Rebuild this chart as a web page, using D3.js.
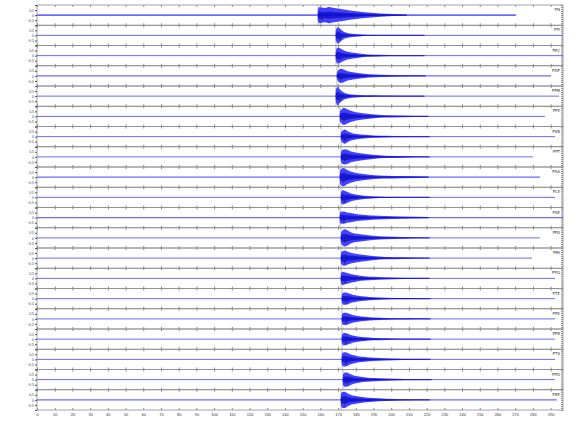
<!DOCTYPE html>
<html><head><meta charset="utf-8">
<script src="https://cdn.jsdelivr.net/npm/d3@7"></script>
<style>body{margin:0;background:#fff}svg{display:block;font-family:"DejaVu Sans",sans-serif}</style>
</head><body>
<svg id="c" width="580" height="440"></svg>
<script>
// ---- data ----
const stations = ["PN","PPI","PPC","PDP","PPM","PPE","PSB","PPT","PSA","PLE","PSE","PPA","PMI","PPG","PTE","PPK","PPB","PTS","PPD","PBE"];
const phaseLabel = "P";
// arrival time (s) of each trace
const arrivals = [158.7,168.8,168.8,169.4,168.8,171.1,171.7,171.7,171.1,171.7,171.1,171.7,171.7,171.7,172.2,172.2,172.2,172.2,172.8,171.7];
// end of each record (s)
const traceEnds = [270.5,297,297,290.2,294.8,286.8,292.5,280,284,292.5,297,284,279.5,292.5,292.5,292.5,292.5,292.5,292.5,293.5];
// baseline noise width (px) per trace
const noiseWidth = [1.6,1,1,1.4,1,1,1,1,1.3,1,1.3,1,1,1,1,1,1,1,1,1.2];
// envelope sample offsets after arrival (s)
const envOffsets = [0,1,2,4,6,9,13,18,25,35,50];
// envelope amplitude (fraction of half-panel height) per trace
const env1  = [0.6,0.8,0.75,0.7,0.8,0.7,0.6,0.45,0.3,0.15,0.06];
const env2  = [0.5,0.8,0.7,0.4,0.25,0.15,0.1,0.07,0.05,0.04,0.03];
const env3  = [0.5,0.8,0.75,0.55,0.4,0.3,0.2,0.12,0.08,0.05,0.04];
const env4  = [0.3,0.6,0.7,0.6,0.45,0.35,0.25,0.15,0.1,0.06,0.04];
const env5  = [0.6,0.9,0.7,0.4,0.25,0.15,0.1,0.08,0.06,0.05,0.04];
const env6  = [0.5,0.7,0.85,0.7,0.55,0.4,0.3,0.2,0.12,0.08,0.05];
const env7  = [0.4,0.6,0.7,0.5,0.35,0.25,0.18,0.12,0.08,0.05,0.04];
const env8  = [0.5,0.7,0.75,0.65,0.5,0.4,0.3,0.2,0.12,0.08,0.05];
const env9  = [0.6,0.85,0.9,0.7,0.55,0.4,0.3,0.2,0.14,0.1,0.06];
const env10 = [0.5,0.7,0.65,0.5,0.35,0.25,0.15,0.1,0.07,0.05,0.04];
const env11 = [0.5,0.6,0.6,0.5,0.45,0.35,0.28,0.2,0.15,0.1,0.06];
const env12 = [0.5,0.75,0.85,0.7,0.5,0.4,0.3,0.2,0.13,0.08,0.05];
const env13 = [0.5,0.7,0.75,0.6,0.5,0.4,0.3,0.2,0.12,0.08,0.05];
const env14 = [0.5,0.65,0.6,0.5,0.4,0.3,0.22,0.15,0.1,0.06,0.04];
const env15 = [0.4,0.6,0.6,0.5,0.38,0.28,0.2,0.13,0.09,0.06,0.04];
const env16 = [0.4,0.6,0.6,0.5,0.38,0.28,0.2,0.13,0.09,0.06,0.04];
const env17 = [0.4,0.6,0.6,0.48,0.35,0.25,0.18,0.12,0.08,0.05,0.04];
const env18 = [0.5,0.7,0.7,0.55,0.42,0.32,0.24,0.16,0.1,0.06,0.04];
const env19 = [0.5,0.7,0.7,0.55,0.4,0.3,0.22,0.15,0.1,0.06,0.04];
const env20 = [0.6,0.8,0.8,0.6,0.45,0.35,0.26,0.18,0.12,0.07,0.05];
const envelopes = [env1,env2,env3,env4,env5,env6,env7,env8,env9,env10,env11,env12,env13,env14,env15,env16,env17,env18,env19,env20];
const noiseLevel = 0.05;
const timeTicks = d3.range(0, 300, 10);
const ampTicks = [-1,-0.5,0,0.5,1];
const ampLabels = [-0.5,0,0.5];

// ---- layout ----
const svg = d3.select("#c");
const L = 37, R = 563, T = 5, B = 410;
const n = stations.length;
const ph = (B - T) / n;
const x = d3.scaleLinear().domain([0, 297]).range([L, R]);
const grey = "#8c8c8c";

stations.forEach((st, i) => {
  const top = T + i * ph;
  const y = d3.scaleLinear().domain([-1, 1]).range([top + ph, top]);
  const g = svg.append("g");
  g.append("rect").attr("x", L).attr("y", top).attr("width", R - L).attr("height", ph)
    .attr("fill", "none").attr("stroke", grey).attr("stroke-width", 0.8);
  g.append("g").attr("transform", `translate(0,${top})`)
    .call(d3.axisBottom(x).tickValues(timeTicks).tickSize(2).tickFormat(""))
    .call(a => { a.select(".domain").remove(); a.selectAll("line").attr("stroke", grey); });
  g.append("g").attr("transform", `translate(0,${top + ph})`)
    .call(d3.axisTop(x).tickValues(timeTicks).tickSize(2).tickFormat(""))
    .call(a => { a.select(".domain").remove(); a.selectAll("line").attr("stroke", grey); });
  g.append("g").attr("transform", `translate(${L},0)`)
    .call(d3.axisLeft(y).tickValues(ampTicks).tickSize(2).tickPadding(1)
      .tickFormat(d => ampLabels.includes(d) ? d3.format("")(d) : ""))
    .call(a => { a.select(".domain").remove(); a.selectAll("line").attr("stroke", "#555");
      a.selectAll("text").attr("font-size", 3.5).attr("fill", "#444"); });
  g.append("g").attr("transform", `translate(${R},0)`)
    .call(d3.axisRight(y).tickValues(d3.range(-1, 1.01, 0.2)).tickSize(-2).tickFormat(""))
    .call(a => { a.select(".domain").remove(); a.selectAll("line").attr("stroke", grey); });
  const ax = x(arrivals[i]);
  g.append("line").attr("x1", ax).attr("x2", ax).attr("y1", top).attr("y2", top + ph)
    .attr("stroke", "#999").attr("stroke-width", 0.7);
  g.append("line").attr("x1", x(0)).attr("x2", x(traceEnds[i])).attr("y1", y(0)).attr("y2", y(0))
    .attr("stroke", "#6a6aff").attr("stroke-width", noiseWidth[i]);
  const pts = envOffsets.map((o, k) => ({ t: arrivals[i] + o, a: Math.max(envelopes[i][k], noiseLevel) }))
    .filter(p => p.t <= traceEnds[i]);
  pts.unshift({ t: arrivals[i] - 0.2, a: noiseLevel });
  const area = d3.area().x(p => x(p.t)).y0(p => y(-p.a)).y1(p => y(p.a)).curve(d3.curveMonotoneX);
  g.append("path").attr("d", area(pts)).attr("fill", "#2020ff").attr("fill-opacity", 0.85);
  const core = d3.area().x(p => x(p.t)).y0(p => y(-p.a * 0.45)).y1(p => y(p.a * 0.45)).curve(d3.curveMonotoneX);
  g.append("path").attr("d", core(pts)).attr("fill", "#0000b0").attr("fill-opacity", 0.6);
  g.append("text").attr("x", ax + 3).attr("y", y(-0.55)).attr("font-size", 4).attr("fill", "#222").text(phaseLabel);
  g.append("text").attr("x", R - 3).attr("y", top + 6).attr("text-anchor", "end")
    .attr("font-size", 4).attr("fill", "#333").text(st);
});

svg.append("g").attr("transform", `translate(0,${B})`)
  .call(d3.axisBottom(x).tickValues(timeTicks).tickSize(0).tickPadding(3))
  .call(a => { a.select(".domain").remove(); a.selectAll("text").attr("font-size", 4).attr("fill", "#333"); });
</script>
</body></html>
